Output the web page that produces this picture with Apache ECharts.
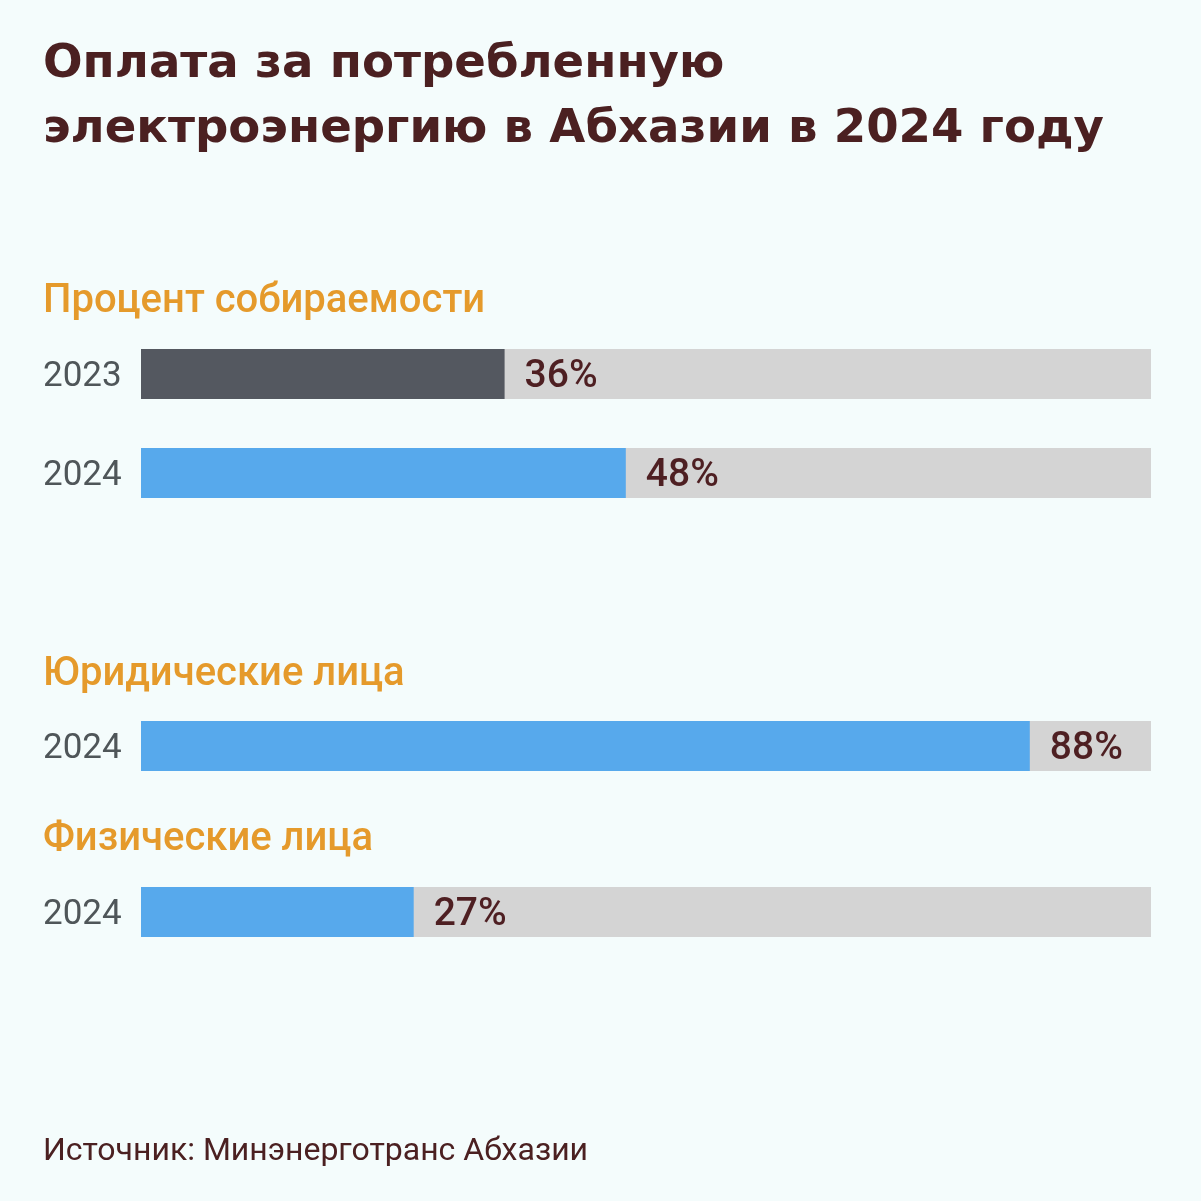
<!DOCTYPE html>
<html><head><meta charset="utf-8">
<script src="https://cdn.jsdelivr.net/npm/echarts@6/dist/echarts.min.js"></script>
<style>html,body{margin:0;padding:0;background:#f4fcfc}#c{width:1201px;height:1201px}</style>
</head><body><div id="c"></div>
<script>
const titleText = 'Оплата за потребленную\nэлектроэнергию в Абхазии в 2024 году';
const sectionTitles = ['Процент собираемости', 'Юридические лица', 'Физические лица'];
const sourceText = 'Источник: Минэнерготранс Абхазии';
const barCategories = ['2023', '2024', '2024', '2024'];
const barValues = [36, 48, 88, 27];
const barColors = ['#545860', '#57a9ec', '#57a9ec', '#57a9ec'];
const barTops = [349, 448, 721, 887];

const chart = echarts.init(document.getElementById('c'));
const grids = [], xAxes = [], yAxes = [], series = [];
barValues.forEach((v, i) => {
  grids.push({left: 141, width: 1010, top: barTops[i], height: 50});
  xAxes.push({type: 'value', min: 0, max: 100, gridIndex: i, show: false});
  yAxes.push({type: 'category', gridIndex: i, data: [barCategories[i]],
    axisLine: {show: false}, axisTick: {show: false},
    axisLabel: {margin: 98, align: 'left', formatter: '{y|{value}}',
      rich: {y: {fontSize: 35, color: '#4f5659', fontFamily: 'Roboto', lineHeight: 35, padding: [6, 0, 0, 0]}}}});
  series.push({type: 'bar', xAxisIndex: i, yAxisIndex: i, data: [v], barWidth: 50,
    itemStyle: {color: barColors[i]}, showBackground: true,
    backgroundStyle: {color: '#d4d4d4'},
    label: {show: true, position: 'right', distance: 20, formatter: '{c}%', offset: [0, 3],
      fontSize: 39, fontWeight: 500, color: '#4e1f22', fontFamily: 'Roboto'},
    silent: true, animation: false});
});
const sectionTops = [277, 650, 815];
const titles = [{text: titleText, left: 38, top: 27,
  textStyle: {fontSize: 46.6, fontWeight: 'bold', color: '#4b2021', lineHeight: 65, fontFamily: 'DejaVu Sans'}}];
sectionTitles.forEach((t, i) => titles.push({text: t, left: 38, top: sectionTops[i],
  textStyle: {fontSize: 40, fontWeight: 500, color: '#e59a2b', fontFamily: 'Roboto'}}));
titles.push({text: sourceText, left: 38, top: 1131,
  textStyle: {fontSize: 32, fontWeight: 'normal', color: '#4b2021', fontFamily: 'Roboto'}});

chart.setOption({backgroundColor: '#f4fcfc', animation: false, title: titles,
  grid: grids, xAxis: xAxes, yAxis: yAxes, series: series});
</script></body></html>
